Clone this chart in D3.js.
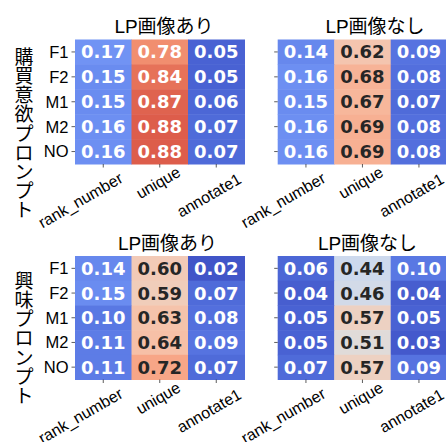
<!DOCTYPE html>
<html lang="ja">
<head>
<meta charset="UTF-8">
<title>Heatmaps</title>
<style>
  body { margin: 0; background: #fff; }
  svg { display: block; }
  .lbl { font-family: "Liberation Sans", "Noto Sans CJK JP", sans-serif; fill: #000; }
  .val { font-family: "DejaVu Sans", sans-serif; font-weight: bold; }
</style>
</head>
<body>
<svg width="446" height="442"></svg>
<script src="https://d3js.org/d3.v7.min.js"></script>
<script>
  // data
  const rows = ["F1", "F2", "M1", "M2", "NO"];
  const cols = ["rank_number", "unique", "annotate1"];
  const titles = ["LP画像あり", "LP画像なし"];
  const yTitles = ["購買意欲プロンプト", "興味プロンプト"];

  const purchaseWith = [
    [0.17, 0.78, 0.05], [0.15, 0.84, 0.05], [0.15, 0.87, 0.06], [0.16, 0.88, 0.07], [0.16, 0.88, 0.07]
  ];
  const purchaseWithout = [
    [0.14, 0.62, 0.09], [0.16, 0.68, 0.08], [0.15, 0.67, 0.07], [0.16, 0.69, 0.08], [0.16, 0.69, 0.08]
  ];
  const interestWith = [
    [0.14, 0.60, 0.02], [0.15, 0.59, 0.07], [0.10, 0.63, 0.08], [0.11, 0.64, 0.09], [0.11, 0.72, 0.07]
  ];
  const interestWithout = [
    [0.06, 0.44, 0.10], [0.04, 0.46, 0.04], [0.05, 0.57, 0.05], [0.05, 0.51, 0.03], [0.07, 0.57, 0.09]
  ];

  // coolwarm (Moreland) control points
  const cw = [
    [59,76,192],[68,90,204],[77,104,215],[87,117,225],[98,130,234],[108,142,241],[119,154,247],[130,165,251],
    [141,176,254],[152,185,255],[163,194,255],[174,201,253],[184,208,249],[194,213,244],[204,217,238],[213,219,230],
    [221,221,221],[229,216,209],[236,211,197],[241,204,185],[245,196,173],[247,187,160],[247,177,148],[247,166,135],
    [244,154,123],[241,141,111],[236,127,99],[229,112,88],[222,96,77],[213,80,66],[203,62,56],[192,40,47],[180,4,38]
  ];
  const color = d3.scaleLinear()
    .domain(cw.map((d, i) => i / (cw.length - 1)))
    .range(cw.map(d => `rgb(${d[0]},${d[1]},${d[2]})`))
    .interpolate(d3.interpolateRgb)
    .clamp(true);

  function lum(c) {
    const r = d3.rgb(c);
    const f = v => { v /= 255; return v <= 0.03928 ? v / 12.92 : Math.pow((v + 0.055) / 1.055, 2.4); };
    return 0.2126 * f(r.r) + 0.7152 * f(r.g) + 0.0722 * f(r.b);
  }

  const svg = d3.select("svg");

  const W = 169.5;
  const panels = [
    { data: purchaseWith,    x: 75,    y: 39.5, h: 124.5, title: titles[0], tx: 164,   rowLabels: true },
    { data: purchaseWithout, x: 277.7, y: 39.5, h: 124.5, title: titles[1], tx: 375,   rowLabels: false },
    { data: interestWith,    x: 75,    y: 256,  h: 123.5, title: titles[0], tx: 167.5, rowLabels: true },
    { data: interestWithout, x: 277.7, y: 256,  h: 123.5, title: titles[1], tx: 367.5, rowLabels: false }
  ];
  // baseline-midpoint offsets of the rotated labels from their tick
  const xLabOff = [[-20, 41], [1.2, 23.3], [-4.5, 36]];

  panels.forEach(p => {
    const x = d3.scaleBand().domain(cols).range([p.x, p.x + W]);
    const y = d3.scaleBand().domain(rows).range([p.y, p.y + p.h]);
    const g = svg.append("g");

    p.data.forEach((row, i) => {
      row.forEach((v, j) => {
        const c = color(v);
        g.append("rect")
          .attr("x", x(cols[j]))
          .attr("y", y(rows[i]))
          .attr("width", x.bandwidth() + 0.5)
          .attr("height", y.bandwidth() + 0.5)
          .attr("fill", c);
        g.append("text")
          .attr("class", "val")
          .attr("x", x(cols[j]) + x.bandwidth() / 2)
          .attr("y", y(rows[i]) + y.bandwidth() / 2)
          .attr("dy", "0.36em")
          .attr("text-anchor", "middle")
          .attr("font-size", "18px")
          .attr("fill", lum(c) > 0.408 ? "#262626" : "#fff")
          .text(v.toFixed(2));
      });
    });

    // y ticks
    rows.forEach(r => {
      const cy = y(r) + y.bandwidth() / 2;
      g.append("line")
        .attr("x1", p.x - 3.5).attr("x2", p.x)
        .attr("y1", cy).attr("y2", cy)
        .attr("stroke", "#333").attr("stroke-width", 0.8);
      if (p.rowLabels) {
        g.append("text")
          .attr("class", "lbl")
          .attr("x", p.x - 6.5)
          .attr("y", cy)
          .attr("dy", "0.36em")
          .attr("text-anchor", "end")
          .attr("font-size", "16.5px")
          .text(r);
      }
    });

    // x ticks
    cols.forEach((c, j) => {
      const cx = x(c) + x.bandwidth() / 2;
      const by = p.y + p.h;
      g.append("line")
        .attr("x1", cx).attr("x2", cx)
        .attr("y1", by).attr("y2", by + 3.5)
        .attr("stroke", "#333").attr("stroke-width", 0.8);
      const lx = cx + xLabOff[j][0], ly = by + xLabOff[j][1];
      g.append("text")
        .attr("class", "lbl")
        .attr("transform", `translate(${lx},${ly}) rotate(-30)`)
        .attr("text-anchor", "middle")
        .attr("font-size", "16px")
        .text(c);
    });

    g.append("text")
      .attr("class", "lbl")
      .attr("x", p.tx)
      .attr("y", p.y - 6.5)
      .attr("text-anchor", "middle")
      .attr("font-size", "19px")
      .text(p.title);
  });

  // vertical row-group titles
  const yTitleTop = [57, 281];
  yTitles.forEach((t, k) => {
    Array.from(t).forEach((ch, i) => {
      svg.append("text")
        .attr("class", "lbl")
        .attr("x", 24)
        .attr("y", yTitleTop[k] + i * 19.2)
        .attr("dy", "0.36em")
        .attr("text-anchor", "middle")
        .attr("font-size", "19px")
        .text(ch);
    });
  });
</script>
</body>
</html>
